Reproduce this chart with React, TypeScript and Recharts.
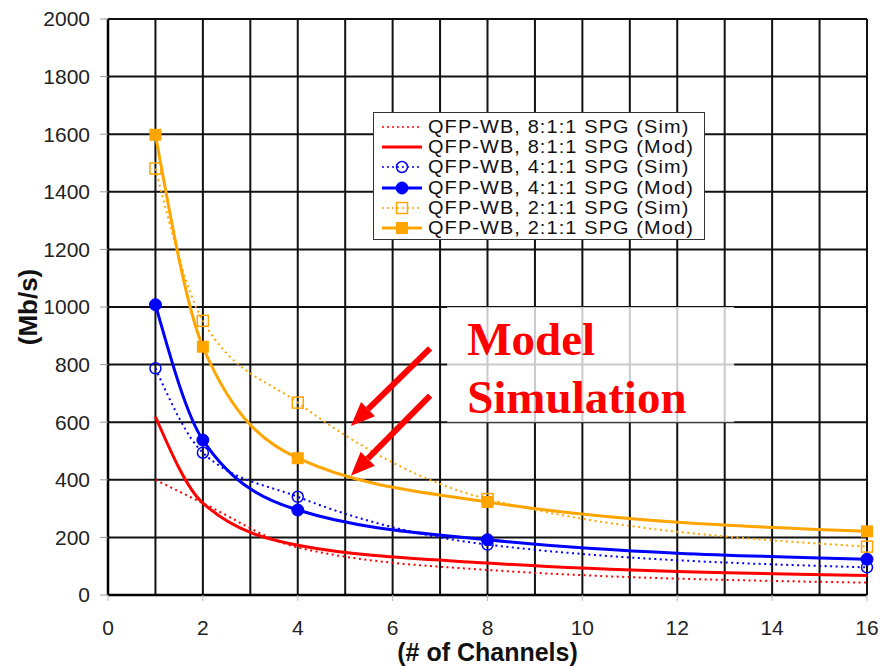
import React from 'react';
import {
  LineChart,
  Line,
  XAxis,
  YAxis,
  CartesianGrid,
  Legend,
  ReferenceArea,
  ReferenceLine,
} from 'recharts';

// number of channels where each series was evaluated
const channels = [1, 2, 4, 8, 16];

// throughput in Mb/s
const sim811 = [400, 319, 165, 87, 43];
const mod811 = [619, 319, 173, 111, 68];
const sim411 = [787, 494, 341, 175, 96];
const mod411 = [1008, 538, 295, 192, 124];
const sim211 = [1481, 952, 668, 333, 168];
const mod211 = [1598, 862, 475, 323, 221];

const xTicks = [0, 2, 4, 6, 8, 10, 12, 14, 16];
const xGridTicks = [0, 1, 2, 3, 4, 5, 6, 7, 8, 9, 10, 11, 12, 13, 14, 15, 16];
const yTicks = [0, 200, 400, 600, 800, 1000, 1200, 1400, 1600, 1800, 2000];

const RED = '#ff0000';
const BLUE = '#0000ff';
const ORANGE = '#ffa500';

const data = channels.map((c, i) => ({
  ch: c,
  sim811: sim811[i],
  mod811: mod811[i],
  sim411: sim411[i],
  mod411: mod411[i],
  sim211: sim211[i],
  mod211: mod211[i],
}));

type Marker = 'none' | 'circle' | 'square';

interface SeriesDef {
  key: string;
  name: string;
  color: string;
  dashed: boolean;
  marker: Marker;
  filled: boolean;
}

const series: SeriesDef[] = [
  { key: 'sim811', name: 'QFP-WB, 8:1:1 SPG (Sim)', color: RED, dashed: true, marker: 'none', filled: false },
  { key: 'mod811', name: 'QFP-WB, 8:1:1 SPG (Mod)', color: RED, dashed: false, marker: 'none', filled: true },
  { key: 'sim411', name: 'QFP-WB, 4:1:1 SPG (Sim)', color: BLUE, dashed: true, marker: 'circle', filled: false },
  { key: 'mod411', name: 'QFP-WB, 4:1:1 SPG (Mod)', color: BLUE, dashed: false, marker: 'circle', filled: true },
  { key: 'sim211', name: 'QFP-WB, 2:1:1 SPG (Sim)', color: ORANGE, dashed: true, marker: 'square', filled: false },
  { key: 'mod211', name: 'QFP-WB, 2:1:1 SPG (Mod)', color: ORANGE, dashed: false, marker: 'square', filled: true },
];

const drawMarker = (s: SeriesDef, cx: number, cy: number) => {
  if (s.marker === 'circle') {
    return s.filled ? (
      <circle cx={cx} cy={cy} r={6} fill={s.color} stroke={s.color} />
    ) : (
      <circle cx={cx} cy={cy} r={5.5} fill="none" stroke={s.color} strokeWidth={1.5} />
    );
  }
  if (s.marker === 'square') {
    return s.filled ? (
      <rect x={cx - 6} y={cy - 6} width={12} height={12} fill={s.color} />
    ) : (
      <rect x={cx - 5.5} y={cy - 5.5} width={11} height={11} fill="none" stroke={s.color} strokeWidth={1.5} />
    );
  }
  return null;
};

const makeDot = (s: SeriesDef) => (props: any) => {
  const { cx, cy, index } = props;
  if (s.marker === 'none' || cx == null || cy == null) return <g key={`${s.key}-${index}`} />;
  return <g key={`${s.key}-${index}`}>{drawMarker(s, cx, cy)}</g>;
};

const LegendBox = () => (
  <div
    style={{
      border: '1.5px solid #333',
      background: '#fff',
      padding: '4px 0 1px 8px',
      width: 322,
      fontFamily: '"Liberation Sans", Arial, sans-serif',
      fontSize: 17.8,
      letterSpacing: 1,
      lineHeight: '20.2px',
      color: '#111',
      whiteSpace: 'nowrap',
    }}
  >
    {series.map((s) => (
      <div key={s.key} style={{ display: 'flex', alignItems: 'center', height: 20.2 }}>
        <svg width={40} height={20} style={{ marginRight: 6, flexShrink: 0 }}>
          <line
            x1={0}
            y1={10}
            x2={40}
            y2={10}
            stroke={s.color}
            strokeWidth={s.dashed ? 1.5 : 3}
            strokeDasharray={s.dashed ? '2 3' : undefined}
          />
          {drawMarker(s, 20, 10)}
        </svg>
        <span style={{ display: 'inline-block', transform: 'scaleX(1.12)', transformOrigin: 'left center' }}>
          {s.name}
        </span>
      </div>
    ))}
  </div>
);

const YTitle = (props: any) => {
  const vb = props.viewBox || {};
  const x = (vb.x ?? 0) + 28;
  const y = (vb.y ?? 0) + (vb.height ?? 0) / 2;
  return (
    <text
      x={x}
      y={y}
      transform={`rotate(-90, ${x}, ${y})`}
      textAnchor="middle"
      dominantBaseline="central"
      fontFamily='"Liberation Sans", Arial, sans-serif'
      fontWeight="bold"
      fontSize={26}
      fill="#111"
    >
      (Mb/s)
    </text>
  );
};

const XTitle = (props: any) => {
  const vb = props.viewBox || {};
  const x = (vb.x ?? 0) + (vb.width ?? 0) / 2;
  const y = (vb.y ?? 0) + (vb.height ?? 0) - 5;
  return (
    <text
      x={x}
      y={y}
      textAnchor="middle"
      fontFamily='"Liberation Sans", Arial, sans-serif'
      fontWeight="bold"
      fontSize={25}
      fill="#111"
    >
      (# of Channels)
    </text>
  );
};

const AnnoText = (props: any) => {
  const vb = props.viewBox || {};
  const x = (vb.x ?? 0) + 20;
  const y = vb.y ?? 0;
  const style = {
    fontFamily: '"Liberation Serif", "Times New Roman", serif',
    fontWeight: 'bold' as const,
    fontSize: 47,
    fill: RED,
  };
  return (
    <g>
      <text x={x} y={y + 48} {...style}>
        Model
      </text>
      <text x={x} y={y + 106} {...style}>
        Simulation
      </text>
    </g>
  );
};

// arrow drawn from (x1,y1) tail to (x2,y2) tip
const Arrow = (props: any) => {
  const { x1, y1, x2, y2 } = props;
  if ([x1, y1, x2, y2].some((v) => v == null || isNaN(v))) return null;
  const ang = Math.atan2(y2 - y1, x2 - x1);
  const headLen = 24;
  const headHalf = 10;
  const bx = x2 - headLen * Math.cos(ang);
  const by = y2 - headLen * Math.sin(ang);
  const px = -Math.sin(ang);
  const py = Math.cos(ang);
  return (
    <g>
      <line x1={x1} y1={y1} x2={bx} y2={by} stroke={RED} strokeWidth={6} />
      <polygon
        points={`${x2},${y2} ${bx + px * headHalf},${by + py * headHalf} ${bx - px * headHalf},${by - py * headHalf}`}
        fill={RED}
      />
    </g>
  );
};

export default function App() {
  const tickStyle = {
    fontFamily: '"Liberation Sans", Arial, sans-serif',
    fontSize: 21,
    fill: '#222',
  };
  return (
    <div style={{ position: 'absolute', left: 0, top: 0, background: '#fff' }}>
      <LineChart width={880} height={666} data={data} margin={{ top: 19, right: 13, bottom: 0, left: 0 }}>
        <XAxis xAxisId="grid" type="number" dataKey="ch" domain={[0, 16]} ticks={xGridTicks} hide />
        <CartesianGrid xAxisId="grid" stroke="#111" strokeWidth={2} />
        <ReferenceArea
          x1={7.15}
          x2={13.2}
          y1={600}
          y2={1000}
          fill="#fff"
          fillOpacity={0.78}
          stroke="none"
          label={<AnnoText />}
        />
        <XAxis
          type="number"
          dataKey="ch"
          domain={[0, 16]}
          ticks={xTicks}
          height={71}
          tickSize={6}
          tickMargin={19}
          tick={tickStyle}
          tickLine={{ stroke: '#bbb' }}
          axisLine={{ stroke: '#000', strokeWidth: 2.5 }}
          label={<XTitle />}
        />
        <YAxis
          type="number"
          domain={[0, 2000]}
          ticks={yTicks}
          width={108}
          tickSize={8}
          tickMargin={10}
          tick={tickStyle}
          tickLine={{ stroke: '#999' }}
          axisLine={{ stroke: '#000', strokeWidth: 2.5 }}
          label={<YTitle />}
        />
        {series.map((s) => (
          <Line
            key={s.key}
            type="monotone"
            dataKey={s.key}
            name={s.name}
            stroke={s.color}
            strokeWidth={s.dashed ? 2 : 3}
            strokeDasharray={s.dashed ? '2 3.5' : undefined}
            dot={makeDot(s)}
            activeDot={false}
            isAnimationActive={false}
          />
        ))}
        <ReferenceLine
          segment={[
            { x: 6.79, y: 856 },
            { x: 5.12, y: 587 },
          ]}
          shape={<Arrow />}
        />
        <ReferenceLine
          segment={[
            { x: 6.79, y: 692 },
            { x: 5.12, y: 414 },
          ]}
          shape={<Arrow />}
        />
        <Legend
          layout="vertical"
          align="center"
          verticalAlign="middle"
          content={<LegendBox />}
          wrapperStyle={{ position: 'absolute', left: 373, top: 112, width: 'auto', height: 'auto' }}
        />
      </LineChart>
    </div>
  );
}
